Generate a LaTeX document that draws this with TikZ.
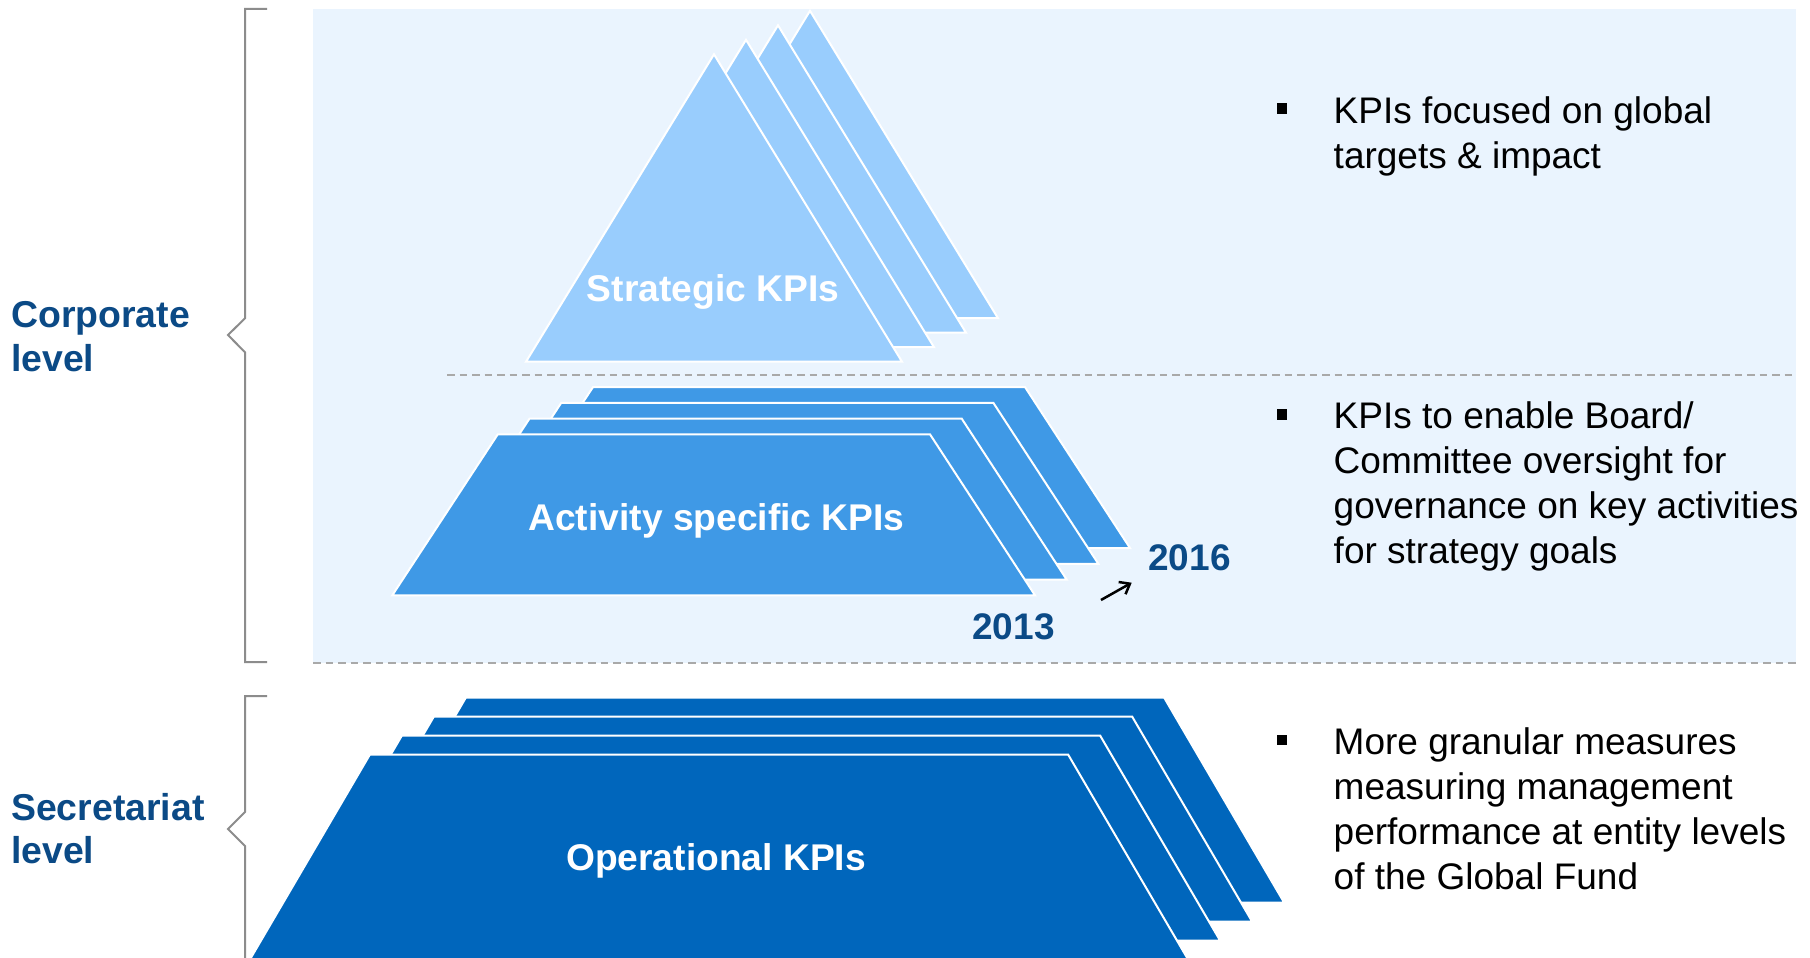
\documentclass[tikz,border=0pt]{standalone}
\usepackage{fontspec}
\setmainfont{Liberation Sans}
\usetikzlibrary{arrows.meta}
\definecolor{panelblue}{HTML}{EAF4FE}
\definecolor{kpilight}{HTML}{99CDFD}
\definecolor{kpimid}{HTML}{3F99E6}
\definecolor{kpidark}{HTML}{0066BC}
\definecolor{labelblue}{HTML}{0B4A86}
\definecolor{bracketgray}{HTML}{8C8C8C}
\definecolor{rulegray}{HTML}{A9A9A9}
\begin{document}
\begin{tikzpicture}[x=1pt,y=-1pt,
  layer/.style={draw=white, line width=2pt, line join=miter},
  bracket/.style={draw=bracketgray, line width=2pt},
  divider/.style={draw=rulegray, line width=2pt, dash pattern=on 7.5pt off 5pt},
  kpilabel/.style={text=white, font=\fontsize{37.2}{44}\selectfont\bfseries, inner sep=0, anchor=base},
  yearlabel/.style={text=labelblue, font=\fontsize{37}{44}\selectfont\bfseries, inner sep=0, anchor=base},
  levellabel/.style={text=labelblue, font=\fontsize{37.4}{43.5}\selectfont\bfseries, inner sep=0, anchor=base west},
  bullettext/.style={text=black, font=\fontsize{37}{45}\selectfont, inner sep=0, anchor=base west},
  bulletmark/.style={fill=black, inner sep=0, minimum size=10.5pt},
]
\useasboundingbox (0,0) rectangle (1810,958);
\clip (0,0) rectangle (1810,958);
\fill[white] (0,0) rectangle (1810,958);

% corporate-level panel and its dividers
\fill[panelblue] (313,9) rectangle (1796,662.7);
\draw[divider] (447,375) -- (1796,375);
\draw[divider] (313,662.7) -- (1796,662.7);

% strategic layer: stacked triangles, back to front
\foreach \k in {3,2,1,0}{
  \begin{scope}[shift={(32*\k,-14.5*\k)}]
    \filldraw[layer, fill=kpilight] (714,54.3) -- (902,361.7) -- (526,361.7) -- cycle;
  \end{scope}
}

% activity layer: stacked trapezoids
\foreach \k in {3,2,1,0}{
  \begin{scope}[shift={(31.7*\k,-15.7*\k)}]
    \filldraw[layer, fill=kpimid] (497.8,434.3) -- (930,434.3) -- (1035,595.3) -- (392.3,595.3) -- cycle;
  \end{scope}
}

% operational layer: stacked trapezoids
\foreach \k in {3,2,1,0}{
  \begin{scope}[shift={(32*\k,-19*\k)}]
    \filldraw[layer, fill=kpidark] (369.8,754.7) -- (1068.2,754.7) -- (1188.2,959.7) -- (249.8,959.7) -- cycle;
  \end{scope}
}

% layer labels
\node[kpilabel] (strat) at (713,301.7) {Strategic KPIs};
\node[kpilabel] (act) at (716.5,530.7) {Activity specific KPIs};
\node[kpilabel] (oper) at (716,870.7) {Operational KPIs};

% years and the arrow between them
\node[yearlabel] (y2013) at (1013.5,639) {2013};
\node[yearlabel] (y2016) at (1189.5,570) {2016};
\coordinate (arrowtail) at (1101,600);
\coordinate (arrowtip) at (1131.7,582.7);
\draw[line width=2.5pt, -{Straight Barb[length=9pt,width=14pt]}] (arrowtail) -- (arrowtip);

% level brackets and labels
\draw[bracket] (267,9) -- (245,9) -- (245,318.3) -- (228,335) -- (245,352.3) -- (245,662) -- (267,662);
\draw[bracket] (267,696) -- (245,696) -- (245,812) -- (228,829) -- (245,846) -- (245,960);
\node[levellabel] (corp) at (11,327.5) {\vtop{\hbox{Corporate}\hbox{level}}};
\node[levellabel] (secr) at (11,820) {\vtop{\hbox{Secretariat}\hbox{level}}};

% descriptions
\node[bulletmark] (m1) at (1282,108.5) {};
\node[bullettext] (t1) at (1333.5,123) {\vtop{\hbox{KPIs focused on global}\hbox{targets \& impact}}};
\node[bulletmark] (m2) at (1282,414.5) {};
\node[bullettext] (t2) at (1333.5,428.5) {\vtop{\hbox{KPIs to enable Board/}\hbox{Committee oversight for}\hbox{governance on key activities}\hbox{for strategy goals}}};
\node[bulletmark] (m3) at (1282,740) {};
\node[bullettext] (t3) at (1333.5,754) {\vtop{\hbox{More granular measures}\hbox{measuring management}\hbox{performance at entity levels}\hbox{of the Global Fund}}};
\end{tikzpicture}
\end{document}
